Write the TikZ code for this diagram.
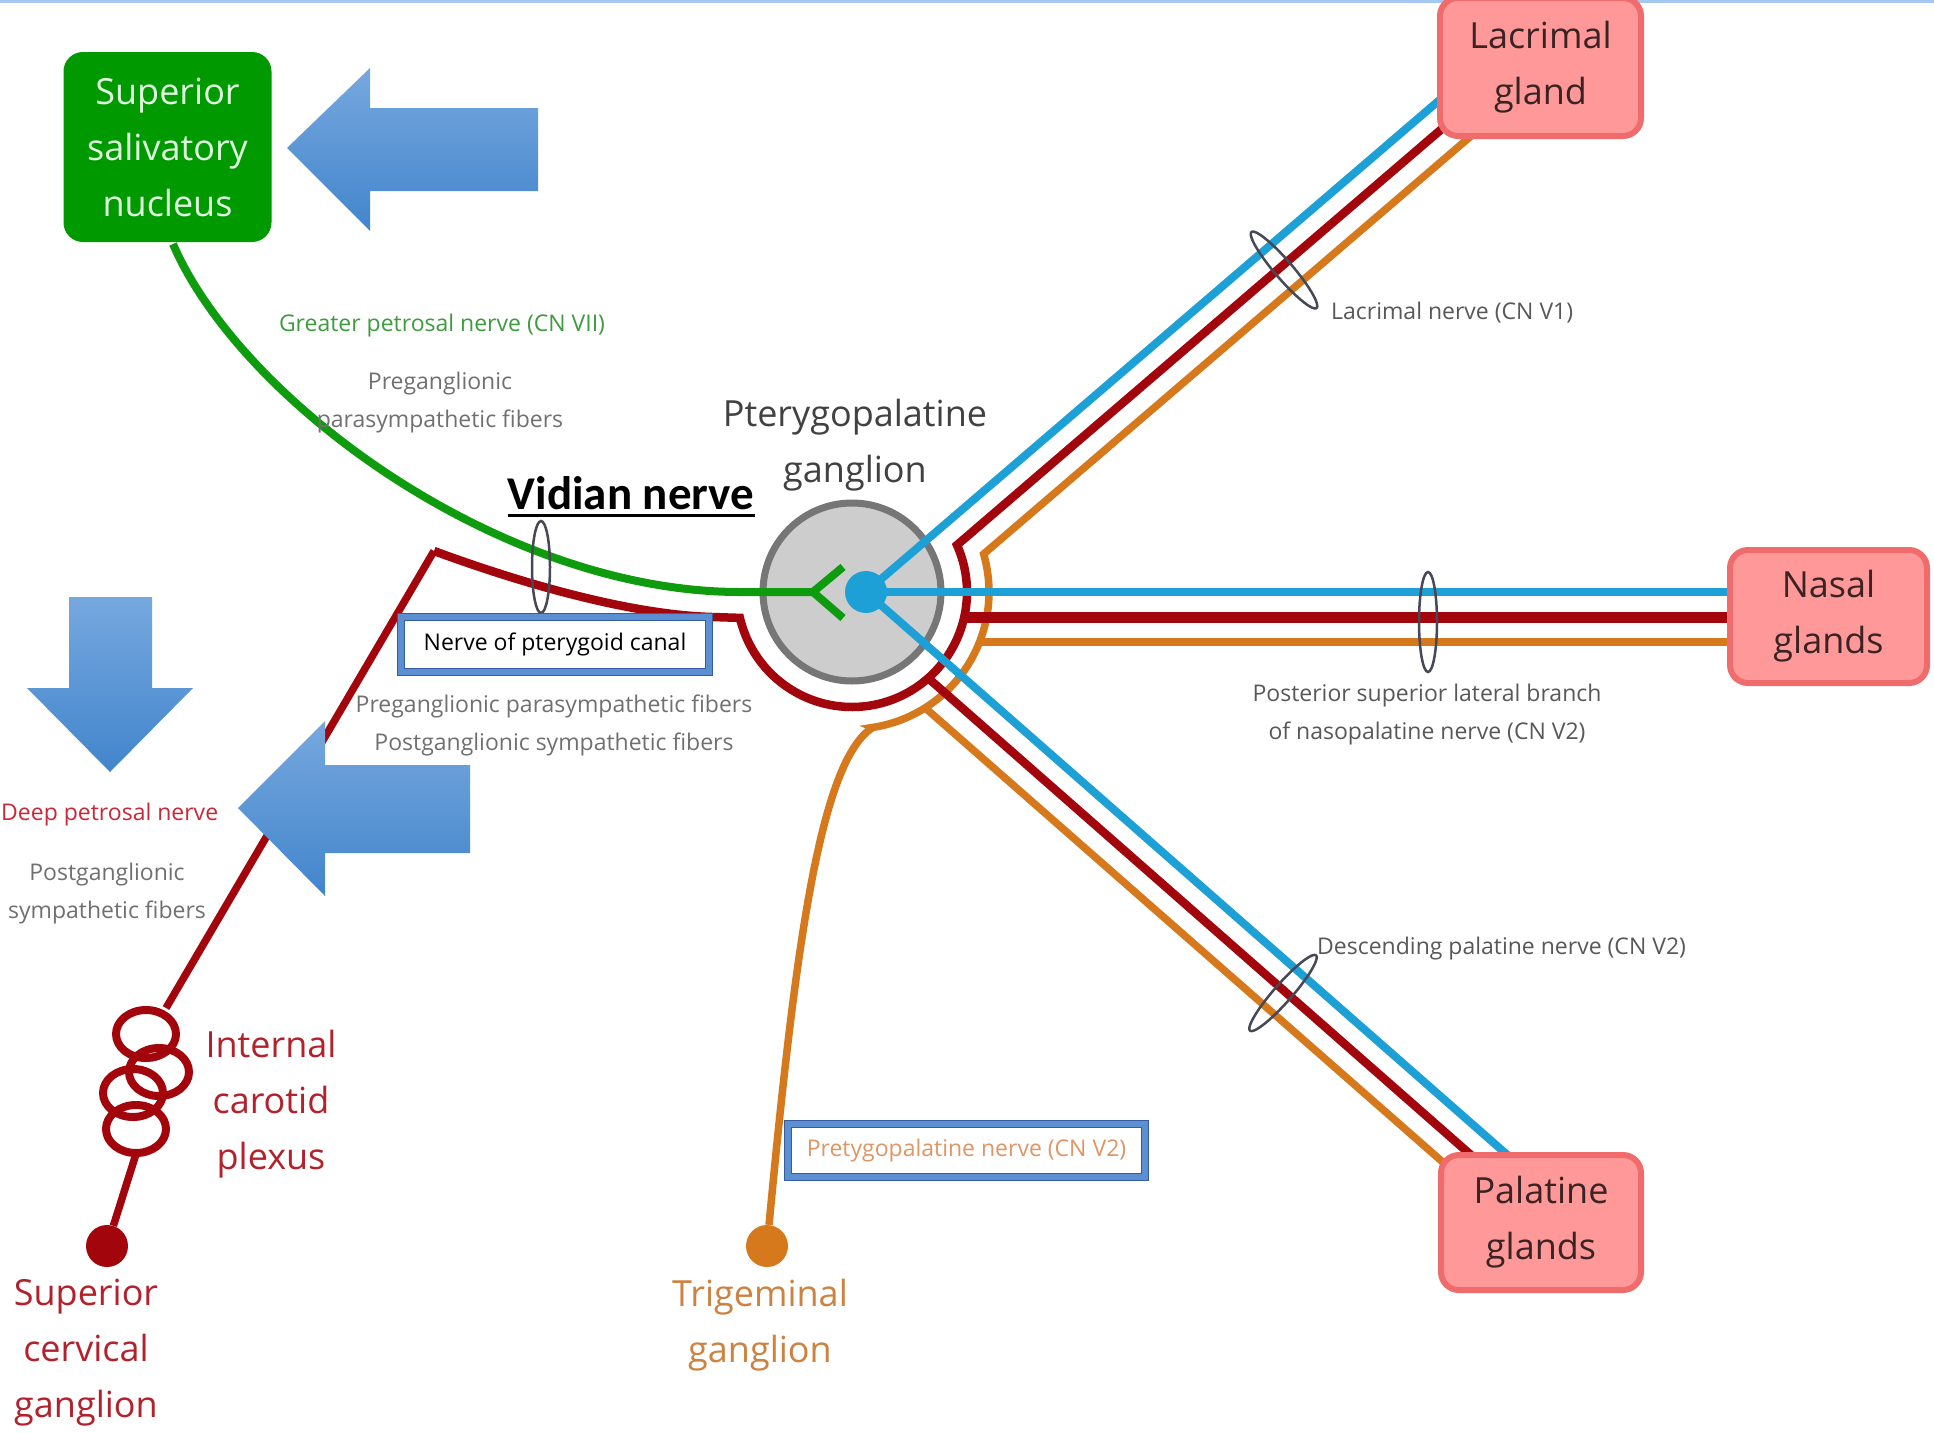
\documentclass[tikz,border=0pt]{standalone}
\usepackage{fontspec}
\setmainfont{Open Sans}
\newfontfamily\calibfont{Carlito}
\usetikzlibrary{calc}
\pgfdeclarelayer{back}
\pgfdeclarelayer{lines}
\pgfsetlayers{back,lines,main}

\definecolor{nblue}{RGB}{28,160,214}
\definecolor{nred}{RGB}{162,6,12}
\definecolor{norange}{RGB}{214,120,28}
\definecolor{ngreen}{RGB}{14,155,14}
\definecolor{sgreen}{RGB}{0,153,0}
\definecolor{mint}{RGB}{222,252,222}
\definecolor{gangfill}{RGB}{205,205,205}
\definecolor{gangedge}{RGB}{118,118,118}
\definecolor{glandfill}{RGB}{255,153,153}
\definecolor{glandedge}{RGB}{240,108,108}
\definecolor{glandtext}{RGB}{60,35,35}
\definecolor{arrowtop}{RGB}{118,168,222}
\definecolor{arrowbot}{RGB}{66,133,204}
\definecolor{tagblue}{RGB}{91,143,210}
\definecolor{tagedge}{RGB}{52,92,158}
\definecolor{markgray}{RGB}{70,72,85}
\definecolor{labgray}{RGB}{112,112,112}
\definecolor{labgraydark}{RGB}{88,88,88}
\definecolor{gpgreen}{RGB}{62,155,62}
\definecolor{dpred}{RGB}{200,40,55}
\definecolor{icred}{RGB}{178,34,44}
\definecolor{tgtext}{RGB}{205,130,65}
\definecolor{ptext}{RGB}{222,150,100}
\definecolor{ppgtext}{RGB}{65,65,65}
\definecolor{stripblue}{RGB}{165,200,240}

\begin{document}
\begin{tikzpicture}[x=1pt,y=-1pt,
  bluenerve/.style={draw=nblue, line width=8pt},
  rednerve/.style={draw=nred, line width=8.5pt, line join=miter},
  orangenerve/.style={draw=norange, line width=7.5pt, line join=miter},
  greennerve/.style={draw=ngreen, line width=8pt},
  smalltext/.style={font=\fontsize{23}{38}\selectfont, inner sep=0pt, align=center},
  bigtext/.style={font=\fontsize{36}{56}\selectfont, inner sep=0pt, align=center},
  gland/.style={draw=glandedge, fill=glandfill, line width=6pt, rounded corners=18pt,
    inner sep=0pt, align=center, text=glandtext, font=\fontsize{36}{56}\selectfont},
  tagbox/.style={draw=tagedge, double=tagblue, double distance=5.5pt, line width=1.5pt,
    fill=white, inner sep=0pt, font=\fontsize{23}{30}\selectfont},
  ringmark/.style={draw=markgray, line width=2.5pt},
  bluearrow/.style={top color=arrowtop, bottom color=arrowbot, draw=none},
]
\useasboundingbox (0,0) rectangle (1934,1432);
\clip (0,0) rectangle (1934,1432);

% ---------- background and ganglion ----------
\begin{pgfonlayer}{back}
  \fill[white] (0,0) rectangle (1934,1432);
  \fill[stripblue] (0,0) rectangle (1934,3);
  \node[circle, draw=gangedge, fill=gangfill, line width=7pt, minimum size=178pt, inner sep=0pt] (ppg) at (852,592) {};
\end{pgfonlayer}

% ---------- nodes ----------
\node[draw=sgreen, fill=sgreen, line width=3pt, rounded corners=18pt,
      minimum width=205pt, minimum height=187pt, inner sep=0pt, align=center,
      text=mint, font=\fontsize{36}{56}\selectfont] (ssn) at (167.5,147)
      {Superior\\salivatory\\nucleus};

\node[gland, minimum width=201pt, minimum height=138pt] (lac) at (1540.5,67) {Lacrimal\\gland};
\node[gland, minimum width=197pt, minimum height=133pt] (nas) at (1828.5,616.5) {Nasal\\glands};
\node[gland, minimum width=200pt, minimum height=135pt] (pal) at (1541,1222.5) {Palatine\\glands};

\node[circle, fill=nblue, minimum size=42pt, inner sep=0pt] (bdot) at (866,592) {};
\node[circle, fill=nred, minimum size=42pt, inner sep=0pt] (scg) at (107,1246) {};
\node[circle, fill=norange, minimum size=42pt, inner sep=0pt] (tg) at (767,1246) {};

% ---------- path points ----------
\coordinate (gStart) at (173,244);
\coordinate (gEnd) at (740,592);
\coordinate (fork) at (813,592);
\coordinate (forkUp) at (843,567);
\coordinate (forkDown) at (843,618);

\coordinate (coilTop) at (166,1008);
\coordinate (coilBottom) at (136,1154);
\coordinate (apex) at (434,551);
\coordinate (vidBend) at (712,617);
\coordinate (redLacEnd) at (1458,115);
\coordinate (redNasStart) at (964,617);
\coordinate (redNasEnd) at (1745,617);
\coordinate (redPalStart) at (928,678);
\coordinate (redPalEnd) at (1488,1170);

\coordinate (orArcStart) at (873,727.4);
\coordinate (orLacEnd) at (1485,124);
\coordinate (orNasStart) at (979.5,642);
\coordinate (orNasEnd) at (1745,642);
\coordinate (orPalStart) at (925.2,707.9);
\coordinate (orPalEnd) at (1458.5,1175.9);

\coordinate (blLacEnd) at (1442.8,97.2);
\coordinate (blNasEnd) at (1745,592);
\coordinate (blPalEnd) at (1520,1166);

% ---------- nerves ----------
\begin{pgfonlayer}{lines}
  % trigeminal (orange) fibres
  \draw[orangenerve] (tg) .. controls (795,950) and (820,760) .. (orArcStart)
     -- plot[domain=81.2:-16.1, samples=80] ({852+137*cos(\x)},{592+137*sin(\x)})
     -- (orLacEnd);
  \draw[orangenerve] (orNasStart) -- (orNasEnd);
  \draw[orangenerve] (orPalStart) -- (orPalEnd);

  % sympathetic / Vidian (red) fibres
  \draw[rednerve, line width=7.5pt] (scg) -- (coilBottom);
  \foreach \cx/\cy in {146/1034, 159/1072, 133/1093, 136/1129}
    \draw[draw=nred, line width=8pt] (\cx,\cy) ellipse [x radius=30, y radius=24];
  \draw[rednerve, line width=7.5pt] (coilTop) -- (apex);
  \draw[rednerve] (apex) .. controls (540,590) and (640,615) .. (vidBend)
     -- plot[domain=167:-24.1, samples=90] ({852+115*cos(\x)},{592+115*sin(\x)})
     -- (redLacEnd);
  \draw[rednerve, line width=11pt] (redNasStart) -- (redNasEnd);
  \draw[rednerve] (redPalStart) -- (redPalEnd);

  % postganglionic (blue) fibres
  \draw[bluenerve] (bdot.center) -- (blLacEnd);
  \draw[bluenerve] (bdot.center) -- (blNasEnd);
  \draw[bluenerve] (bdot.center) -- (blPalEnd);

  % greater petrosal (green) fibres
  \draw[greennerve] (gStart) .. controls (240,400) and (500,592) .. (gEnd) -- (fork);
  \draw[greennerve] (forkUp) -- (fork) -- (forkDown);

  % bundle rings
  \draw[ringmark] (541,567) ellipse [x radius=9, y radius=46];
  \draw[ringmark] (1428,622) ellipse [x radius=9, y radius=50];
  \draw[ringmark] plot[domain=0:360, samples=73]
     ({1284+50*0.651*cos(\x)+9*0.759*sin(\x)},{270+50*0.759*cos(\x)-9*0.651*sin(\x)}) -- cycle;
  \draw[ringmark] plot[domain=0:360, samples=73]
     ({1283+50*0.660*cos(\x)+9*0.752*sin(\x)},{993-50*0.752*cos(\x)+9*0.660*sin(\x)}) -- cycle;
\end{pgfonlayer}

% ---------- labels ----------
\node[smalltext, text=gpgreen] (gpn) at (442,326) {Greater petrosal nerve (CN VII)};
\node[smalltext, text=labgray] (gpfib) at (440,403) {Preganglionic\\parasympathetic fibers};
\node[bigtext, text=ppgtext] (ppglab) at (855,445.5) {Pterygopalatine\\ganglion};
\node[font=\calibfont\bfseries\fontsize{47}{56}\selectfont, inner sep=0pt, anchor=base] (vid) at (631,509) {Vidian nerve};
\draw[line width=3pt] ([yshift=-6pt]vid.base west) -- ([yshift=-6pt]vid.base east);
\node[tagbox, minimum width=308pt, minimum height=55pt, text=black] (npc) at (555,644.5) {\raisebox{-2pt}{Nerve of pterygoid canal}};
\node[smalltext, text=labgray] (npcfib) at (554,725.5) {Preganglionic parasympathetic fibers\\Postganglionic sympathetic fibers};
\node[smalltext, text=dpred, anchor=west] (dpn) at (1,815) {Deep petrosal nerve};
\node[smalltext, text=labgray] (dpfib) at (107,893.5) {Postganglionic\\sympathetic fibers};
\node[bigtext, text=icred] (icp) at (271,1104) {Internal\\carotid\\plexus};
\node[bigtext, text=icred] (scglab) at (86,1353) {Superior\\cervical\\ganglion};
\node[bigtext, text=tgtext] (tglab) at (760,1325) {Trigeminal\\ganglion};
\node[tagbox, minimum width=357pt, minimum height=53pt, text=ptext] (ptn) at (966.5,1150.5) {Pretygopalatine nerve (CN V2)};
\node[smalltext, text=labgraydark, anchor=west] (lacn) at (1331,313) {Lacrimal nerve (CN V1)};
\node[smalltext, text=labgraydark] (nasn) at (1427,714.5) {Posterior superior lateral branch\\of nasopalatine nerve (CN V2)};
\node[smalltext, text=labgraydark, anchor=west] (dpaln) at (1317,949) {Descending palatine nerve (CN V2)};

% ---------- pointer arrows ----------
\shade[bluearrow] (287,148) -- (370,68) -- (370,108) -- (538,108) -- (538,191)
   -- (370,191) -- (370,231) -- cycle;
\shade[bluearrow] (69,597) -- (152,597) -- (152,688) -- (193,688) -- (110,772)
   -- (27,688) -- (69,688) -- cycle;
\shade[bluearrow] (238,808) -- (325,721) -- (325,765) -- (470,765) -- (470,853)
   -- (325,853) -- (325,896) -- cycle;
\end{tikzpicture}
\end{document}
